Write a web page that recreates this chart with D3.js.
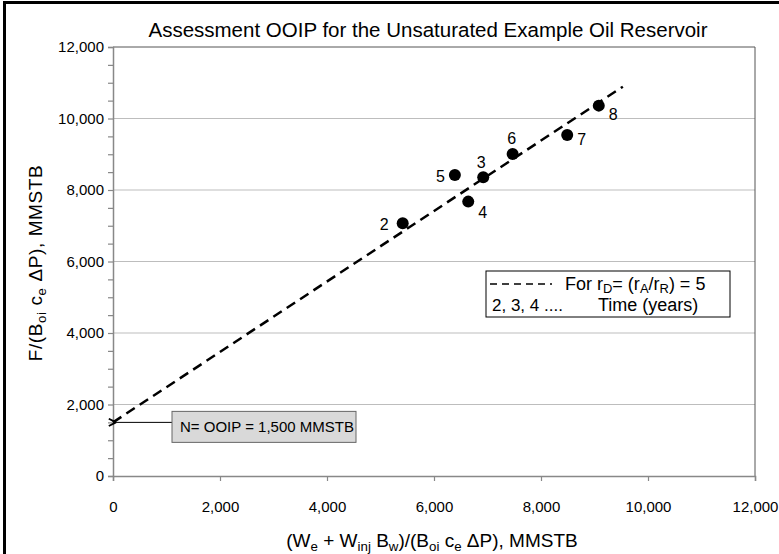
<!DOCTYPE html>
<html>
<head>
<meta charset="utf-8">
<script src="https://cdn.jsdelivr.net/npm/d3@7"></script>
<style>
  body { margin: 0; background: #fff; }
  svg { font-family: "Liberation Sans", Arial, sans-serif; }
</style>
</head>
<body>
<svg id="chart" width="779" height="554"></svg>
<script>
// data
const years = ["2", "3", "4", "5", "6", "7", "8"];
const xVals = [5415, 6920, 6640, 6390, 7470, 8490, 9080];
const yVals = [7070, 8355, 7675, 8420, 9005, 9540, 10360];
const fitX = [0, 9530];
const fitY = [1500, 10890];
const xTicks = [0, 2000, 4000, 6000, 8000, 10000, 12000];
const yTicks = [0, 2000, 4000, 6000, 8000, 10000, 12000];
const ooip = 1500;

// where each year label sits relative to its dot
const labelPos = {
  "2": [-14, 1, "end"], "3": [-2, -15, "middle"], "4": [10, 10, "start"],
  "5": [-10, 1, "end"], "6": [-1, -16, "middle"], "7": [10, 4, "start"],
  "8": [10, 8, "start"]
};

const svg = d3.select("#chart");
const mLeft = 113, mRight = 755, mTop = 47, mBottom = 476;

const x = d3.scaleLinear().domain([0, 12000]).range([mLeft, mRight]);
const y = d3.scaleLinear().domain([0, 12000]).range([mBottom, mTop]);
const fmt = d3.format(",");

// outer frame (only top and left are inside the picture)
svg.append("rect")
  .attr("x", 4.5).attr("y", 2.5)
  .attr("width", 800).attr("height", 600)
  .attr("fill", "none").attr("stroke", "#000").attr("stroke-width", 3);

// gridlines
svg.append("g")
  .selectAll("line")
  .data(yTicks.filter(d => d > 0 && d < 12000))
  .enter()
  .append("line")
  .attr("x1", mLeft).attr("x2", mRight)
  .attr("y1", d => y(d)).attr("y2", d => y(d))
  .attr("stroke", "#bdbdbd").attr("stroke-width", 1.2);

// plot area top/right border
svg.append("path")
  .attr("d", `M${mLeft},${mTop}H${mRight}V${mBottom}`)
  .attr("fill", "none").attr("stroke", "#555").attr("stroke-width", 1);

// y axis with minor ticks every 500
const yAxis = d3.axisLeft(y).tickValues(d3.range(0, 12001, 500))
  .tickSize(5).tickFormat(d => (d % 2000 === 0 ? fmt(d) : ""));
const gy = svg.append("g").attr("transform", `translate(${mLeft},0)`).call(yAxis);
gy.select(".domain").attr("stroke", "#888").attr("stroke-width", 1.5);
gy.selectAll(".tick line").attr("stroke", "#888").attr("stroke-width", 1.2);
gy.selectAll(".tick text")
  .attr("x", -9).attr("font-size", 15).attr("fill", "#000")
  .attr("font-family", "Liberation Sans, Arial, sans-serif");

// x axis
const xAxis = d3.axisBottom(x).tickValues(xTicks).tickSize(5).tickFormat(fmt);
const gx = svg.append("g").attr("transform", `translate(0,${mBottom})`).call(xAxis);
gx.select(".domain").attr("stroke", "#888").attr("stroke-width", 1.5);
gx.selectAll(".tick line").attr("stroke", "#888").attr("stroke-width", 1.2);
gx.selectAll(".tick text")
  .attr("y", 25).attr("font-size", 15).attr("fill", "#000")
  .attr("font-family", "Liberation Sans, Arial, sans-serif");

// dashed fit line
svg.append("line")
  .attr("x1", x(fitX[0])).attr("y1", y(fitY[0]))
  .attr("x2", x(fitX[1])).attr("y2", y(fitY[1]))
  .attr("stroke", "#000").attr("stroke-width", 2.5)
  .attr("stroke-dasharray", "10,6");

// points
const pts = years.map((t, i) => ({ t, x: xVals[i], y: yVals[i] }));
svg.append("g")
  .selectAll("circle")
  .data(pts)
  .enter()
  .append("circle")
  .attr("cx", d => x(d.x)).attr("cy", d => y(d.y))
  .attr("r", 6).attr("fill", "#000");

svg.append("g")
  .selectAll("text")
  .data(pts)
  .enter()
  .append("text")
  .attr("x", d => x(d.x) + labelPos[d.t][0])
  .attr("y", d => y(d.y) + labelPos[d.t][1] + 6)
  .attr("text-anchor", d => labelPos[d.t][2])
  .attr("font-size", 16)
  .text(d => d.t);

// title
svg.append("text")
  .attr("x", 428).attr("y", 37)
  .attr("text-anchor", "middle").attr("font-size", 20.5)
  .text("Assessment OOIP for the Unsaturated Example Oil Reservoir");

// helper for text with subscripts: parts = [[text, isSub], ...]
function richText(sel, parts, size, ratio = 0.7, drop = 4) {
  let wasSub = false;
  parts.forEach(([s, sub]) => {
    const ts = sel.append("tspan").text(s);
    if (sub) {
      ts.attr("font-size", size * ratio).attr("dy", wasSub ? 0 : drop);
    } else {
      ts.attr("dy", wasSub ? -drop : 0);
    }
    wasSub = !!sub;
  });
}

// x axis title
const xt = svg.append("text")
  .attr("x", 432).attr("y", 547)
  .attr("text-anchor", "middle").attr("font-size", 19);
richText(xt, [["(W", 0], ["e", 1], [" + W", 0], ["inj", 1], [" B", 0], ["w", 1],
  [")/(B", 0], ["oi", 1], [" c", 0], ["e", 1], [" \u0394P), MMSTB", 0]], 19);

// y axis title
const yt = svg.append("text")
  .attr("transform", `translate(42,263) rotate(-90)`)
  .attr("text-anchor", "middle").attr("font-size", 19)
  .attr("letter-spacing", 0.6);
richText(yt, [["F/(B", 0], ["oi", 1], [" c", 0], ["e", 1], ["  \u0394P), MMSTB", 0]], 19);

// legend box
const lg = svg.append("g").attr("transform", "translate(486,271)");
lg.append("rect").attr("width", 244).attr("height", 46)
  .attr("fill", "#fff").attr("stroke", "#000").attr("stroke-width", 1);
lg.append("line").attr("x1", 4).attr("x2", 66).attr("y1", 13).attr("y2", 13)
  .attr("stroke", "#000").attr("stroke-width", 1.5).attr("stroke-dasharray", "7,5");
const l1 = lg.append("text").attr("x", 79).attr("y", 19).attr("font-size", 18);
richText(l1, [["For  r", 0], ["D", 1], ["= (r", 0], ["A", 1], ["/r", 0], ["R", 1], [") = 5", 0]], 18, 0.72, 3);
lg.append("text").attr("x", 6).attr("y", 40).attr("font-size", 17)
  .text("2, 3, 4 ....");
lg.append("text").attr("x", 112).attr("y", 40).attr("font-size", 18)
  .text("Time (years)");

// OOIP callout
const cy = y(ooip);
svg.append("defs").append("marker")
  .attr("id", "arr").attr("viewBox", "0 0 10 10").attr("refX", 1).attr("refY", 5)
  .attr("markerWidth", 9).attr("markerHeight", 9).attr("orient", "auto")
  .append("path").attr("d", "M1,5 L9,1 M1,5 L9,9").attr("fill", "none")
  .attr("stroke", "#000").attr("stroke-width", 2);
svg.append("line")
  .attr("x1", 172).attr("x2", x(0) + 3).attr("y1", cy).attr("y2", cy)
  .attr("stroke", "#000").attr("stroke-width", 1)
  .attr("marker-end", "url(#arr)");
svg.append("rect")
  .attr("x", 172).attr("y", cy - 11).attr("width", 184).attr("height", 31)
  .attr("fill", "#d9d9d9").attr("stroke", "#666").attr("stroke-width", 1);
svg.append("text")
  .attr("x", 180).attr("y", cy + 10).attr("font-size", 15)
  .text("N= OOIP = 1,500 MMSTB");
</script>
</body>
</html>
